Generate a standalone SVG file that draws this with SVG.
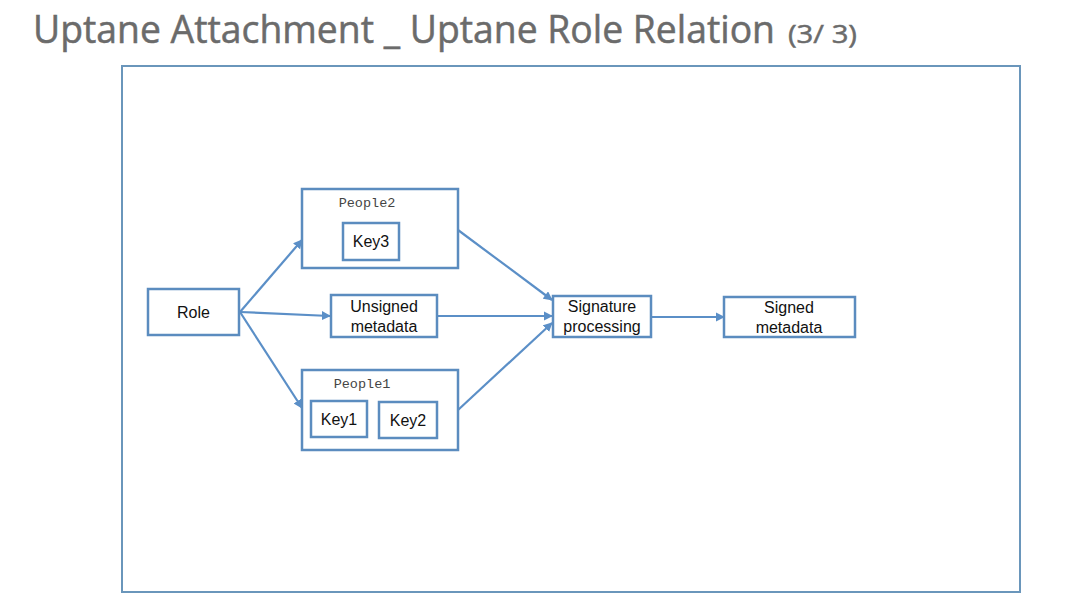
<svg xmlns="http://www.w3.org/2000/svg" width="1077" height="599" viewBox="0 0 1077 599">
<style>
.box{fill:#fff;stroke:#5b8cbf;stroke-width:2.5}
.t{font-family:"Liberation Sans",Arial,sans-serif;font-size:16px;fill:#111;text-anchor:middle}
.m{font-family:"Liberation Mono","DejaVu Sans Mono",monospace;font-size:13.5px;fill:#444;text-anchor:middle}
.e{stroke:#5b8fc7;stroke-width:2.2;fill:none;marker-end:url(#ah)}
</style>
<defs>
<marker id="ah" viewBox="0 0 10 10" refX="9" refY="5" markerWidth="4.2" markerHeight="4.2" orient="auto" markerUnits="strokeWidth">
<path d="M0,0 L10,5 L0,10 z" fill="#5b8fc7"/>
</marker>
</defs>
<rect width="1077" height="599" fill="#fff"/>
<g id="title" font-family="'Open Sans','Noto Sans',sans-serif" fill="#6b6b6b" stroke="#6b6b6b" stroke-width="0.5">
<text x="33" y="43" font-size="37.5" textLength="742" lengthAdjust="spacingAndGlyphs">Uptane Attachment _ Uptane Role Relation</text>
<text x="788" y="43" font-size="26" textLength="69" lengthAdjust="spacingAndGlyphs">(3/ 3)</text>
</g>
<rect id="frame" x="122" y="66" width="898" height="526" fill="none" stroke="#6a96bb" stroke-width="2"/>
<g id="connectors">
<path class="e" d="M240,312 L302,240"/>
<path class="e" d="M240,312 L330,316"/>
<path class="e" d="M240,312 L302,408"/>
<path class="e" d="M458,230 L552,300"/>
<path class="e" d="M437,316 L552,316"/>
<path class="e" d="M458,410 L552,323"/>
<path class="e" d="M652,317 L724,317"/>
</g>
<g id="role">
<rect class="box" x="148" y="289" width="91" height="46"/>
<text class="t" x="193.5" y="318">Role</text>
</g>
<g id="people2">
<rect class="box" x="302" y="189" width="156" height="79"/>
<text class="m" x="367" y="207">People2</text>
<g id="key3">
<rect class="box" x="343" y="223" width="56" height="37"/>
<text class="t" x="371" y="247">Key3</text>
</g>
</g>
<g id="unsigned">
<rect class="box" x="331" y="295" width="106" height="42"/>
<text class="t" x="384" y="312">Unsigned</text>
<text class="t" x="384" y="332">metadata</text>
</g>
<g id="people1">
<rect class="box" x="302" y="370" width="156" height="80"/>
<text class="m" x="362" y="388">People1</text>
<g id="key1">
<rect class="box" x="311" y="401" width="56" height="36"/>
<text class="t" x="339" y="425">Key1</text>
</g>
<g id="key2">
<rect class="box" x="379" y="402" width="58" height="36"/>
<text class="t" x="408" y="426">Key2</text>
</g>
</g>
<g id="signature">
<rect class="box" x="553" y="296" width="98" height="41"/>
<text class="t" x="602" y="312">Signature</text>
<text class="t" x="602" y="332">processing</text>
</g>
<g id="signed">
<rect class="box" x="724" y="297" width="131" height="40"/>
<text class="t" x="789" y="313">Signed</text>
<text class="t" x="789" y="333">metadata</text>
</g>
</svg>
